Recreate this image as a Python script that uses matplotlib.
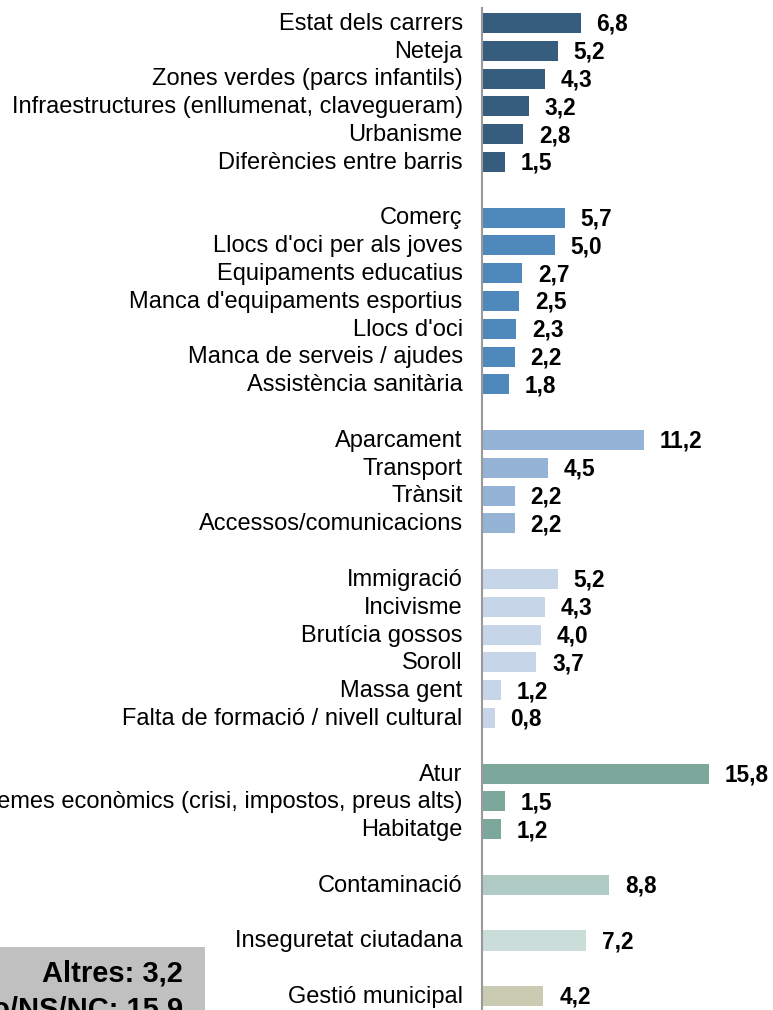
import matplotlib
matplotlib.use("Agg")
import matplotlib.pyplot as plt
from matplotlib.patches import Rectangle

plt.rcParams['font.family'] = ['Liberation Sans', 'DejaVu Sans']

labels = [
    "Estat dels carrers", "Neteja", "Zones verdes (parcs infantils)",
    "Infraestructures (enllumenat, clavegueram)", "Urbanisme", "Diferències entre barris",
    None,
    "Comerç", "Llocs d'oci per als joves", "Equipaments educatius",
    "Manca d'equipaments esportius", "Llocs d'oci", "Manca de serveis / ajudes",
    "Assistència sanitària",
    None,
    "Aparcament", "Transport", "Trànsit", "Accessos/comunicacions",
    None,
    "Immigració", "Incivisme", "Brutícia gossos", "Soroll", "Massa gent",
    "Falta de formació / nivell cultural",
    None,
    "Atur", "Problemes econòmics (crisi, impostos, preus alts)", "Habitatge",
    None,
    "Contaminació",
    None,
    "Inseguretat ciutadana",
    None,
    "Gestió municipal",
]
values = [
    6.8, 5.2, 4.3, 3.2, 2.8, 1.5,
    None,
    5.7, 5.0, 2.7, 2.5, 2.3, 2.2, 1.8,
    None,
    11.2, 4.5, 2.2, 2.2,
    None,
    5.2, 4.3, 4.0, 3.7, 1.2, 0.8,
    None,
    15.8, 1.5, 1.2,
    None,
    8.8,
    None,
    7.2,
    None,
    4.2,
]
group_colors = {
    0: "#365D7E", 1: "#4F89BB", 2: "#95B3D4", 3: "#C6D6E8",
    4: "#7BA89B", 5: "#B0CBC3", 6: "#CADDD8", 7: "#C9CCB2",
}
others_text = ["Altres: 3,2", "No/NS/NC: 15,9"]

W, H = 773, 1010
fig = plt.figure(figsize=(W / 100, H / 100), dpi=100)
ax_left = 482 / W
ax = fig.add_axes([ax_left, 0, 1 - ax_left, 1 - 8 / H])

group = 0
for i, (lab, v) in enumerate(zip(labels, values)):
    if lab is None:
        group += 1
        continue
    col = group_colors[group]
    ax.barh(i, v, height=0.72, color=col, left=0.1)
    ax.text(v + 0.1 + 1.1, i + 0.05, f"{v:.1f}".replace(".", ","), va="center", ha="left",
            fontsize=16.3, fontweight="bold", color="black")
    ax.text(-1.35, i + 0.03, lab, va="center", ha="right", fontsize=17, color="black",
            clip_on=False)

ax.set_xlim(0, (W - 482) / 14.3)
ax.set_ylim(35.5, -0.54)
for s in ["top", "right", "bottom"]:
    ax.spines[s].set_visible(False)
ax.spines["left"].set_color("#999999")
ax.spines["left"].set_linewidth(1.5)
ax.set_xticks([])
ax.set_yticks([])

# Others box
fig.patches.append(Rectangle((0, 0), 205 / W, (H - 947) / H, transform=fig.transFigure,
                             facecolor="#C0C0C0", edgecolor="none", zorder=0))
fig.text(183 / W, 1 - 974 / H, others_text[0], ha="right", va="center",
         fontsize=21, fontweight="bold")
fig.text(183 / W, 1 - 1009 / H, others_text[1], ha="right", va="center",
         fontsize=21, fontweight="bold")

fig.savefig("out.png", dpi=100)
